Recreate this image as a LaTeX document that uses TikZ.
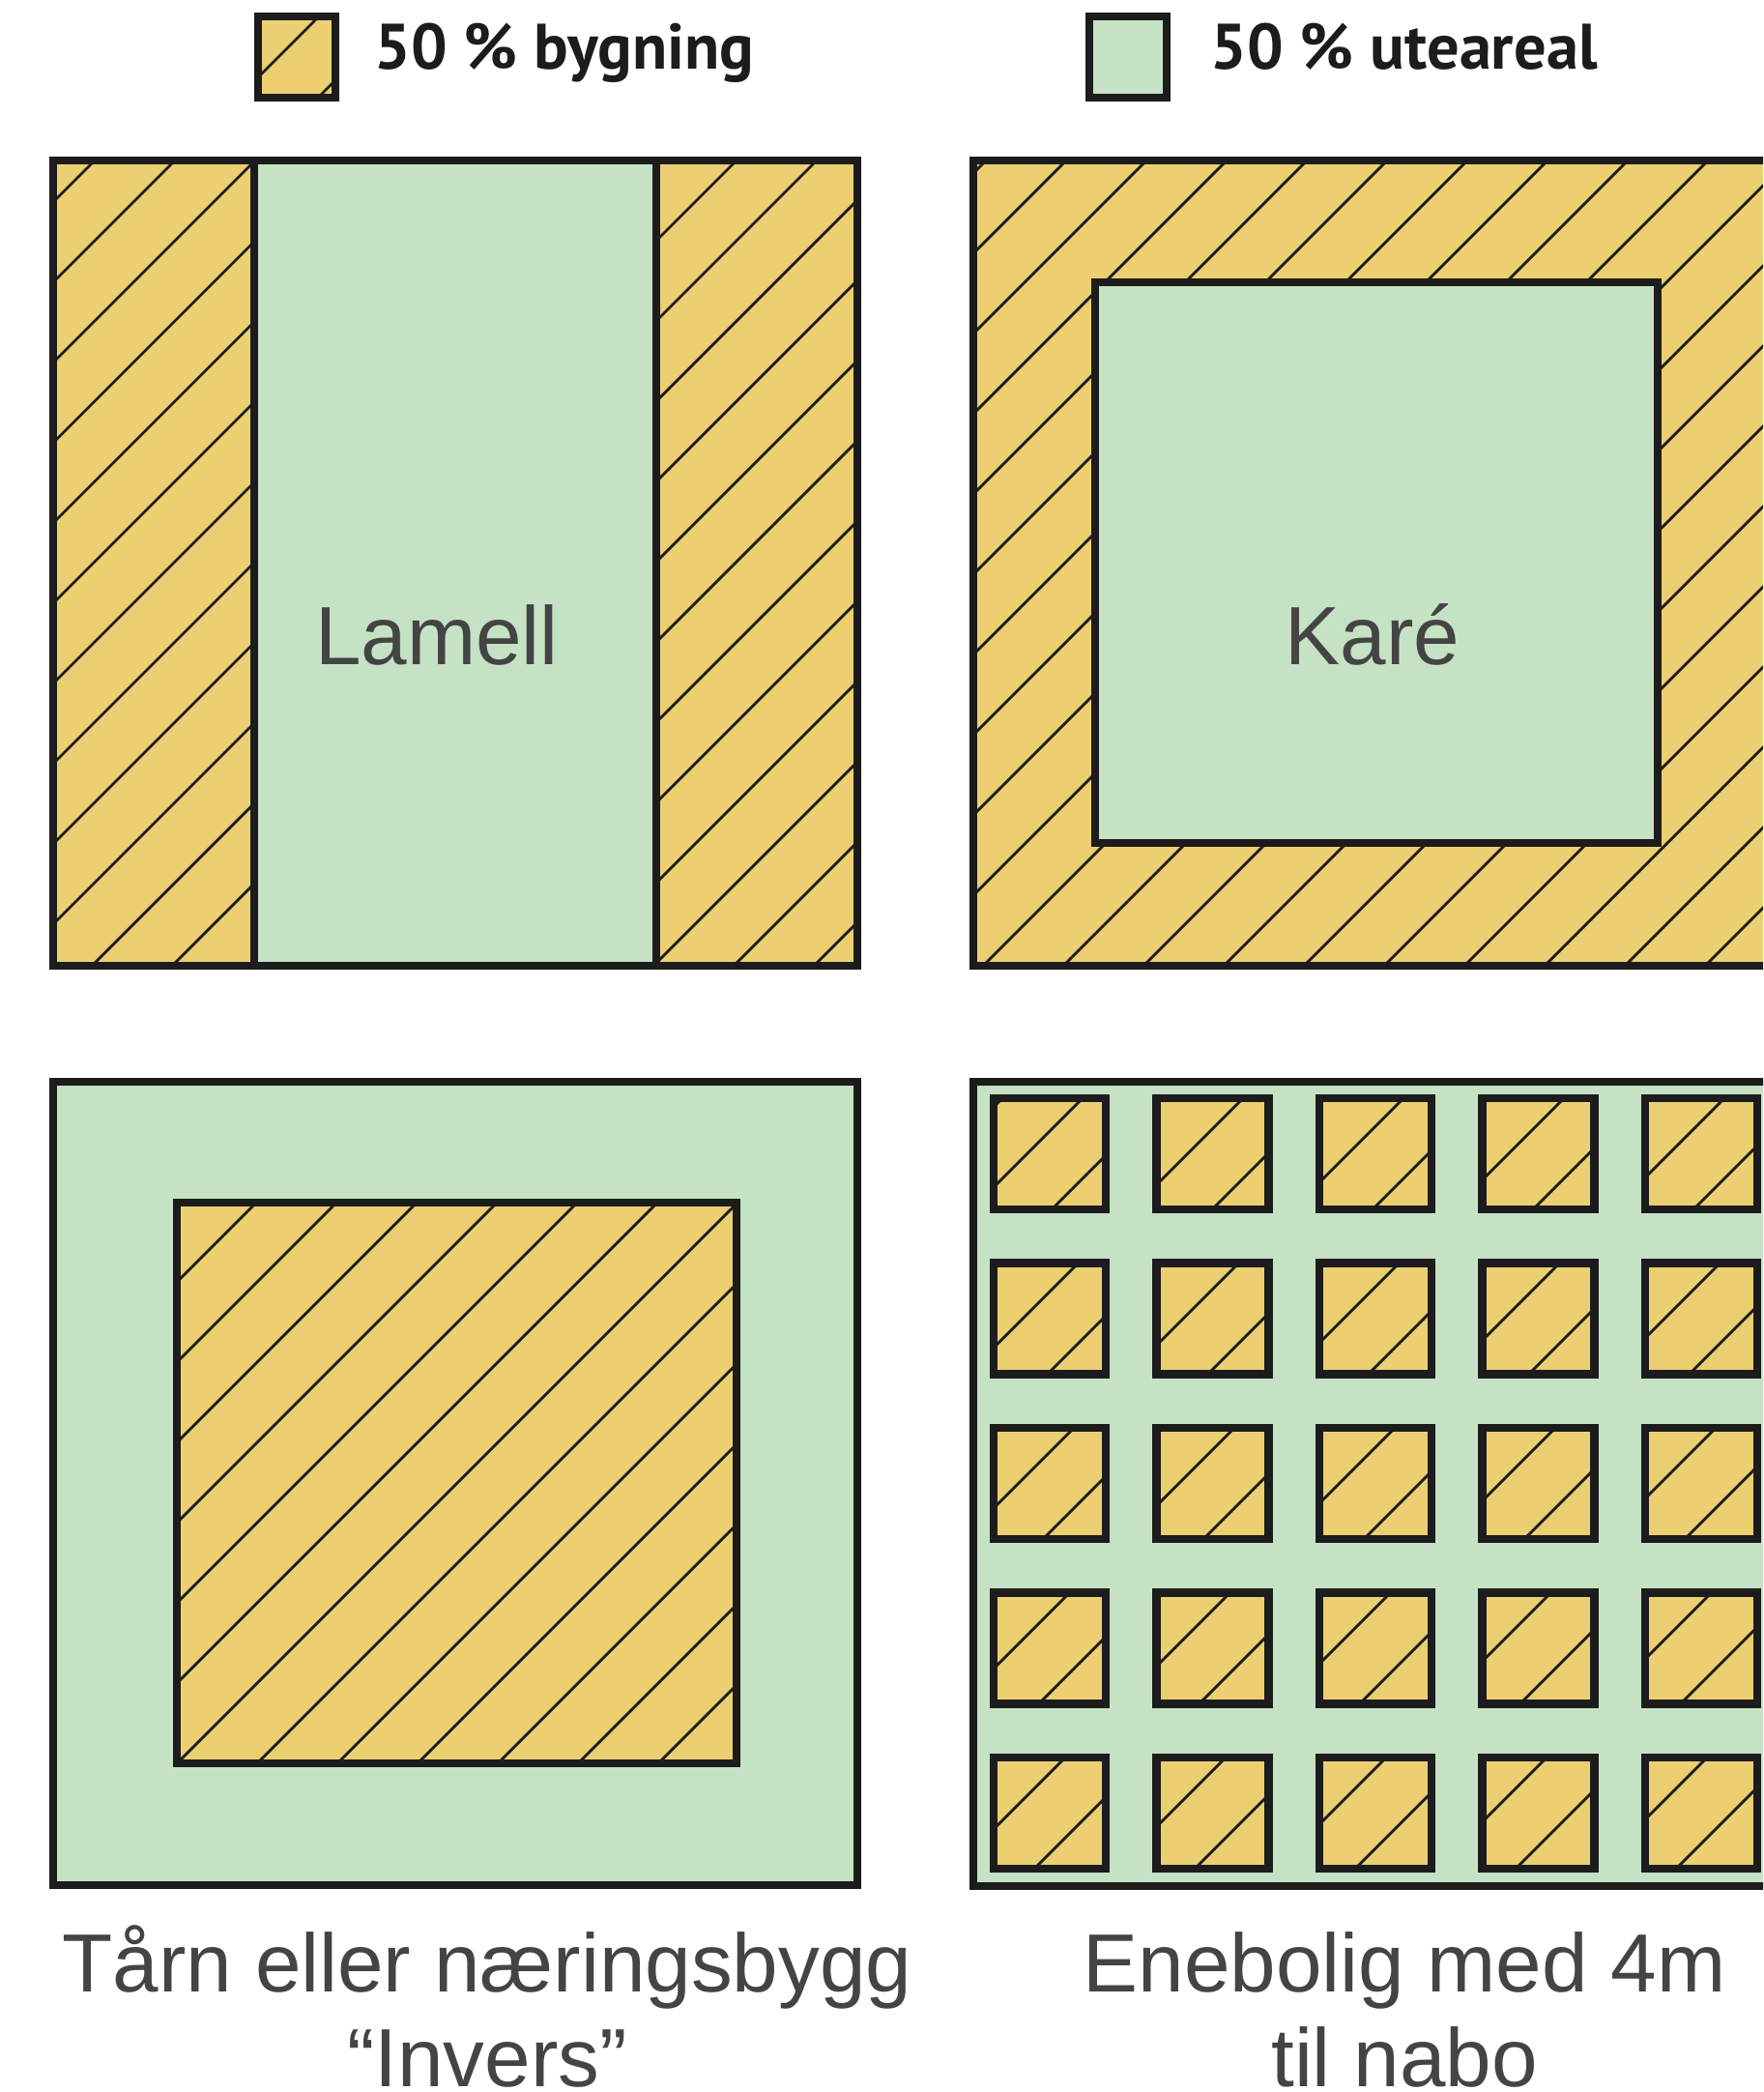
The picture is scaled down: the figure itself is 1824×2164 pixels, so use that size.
\documentclass[tikz,border=0pt]{standalone}
\usepackage{fontspec}
\setmainfont{Liberation Sans}
\newfontfamily\legfont{PT Sans}
\definecolor{bldg}{HTML}{ECCF70}
\definecolor{ute}{HTML}{C6E2C4}
\definecolor{edgecol}{HTML}{1C1C1C}
\definecolor{captxt}{HTML}{444444}
\tikzset{
  edgeline/.style={draw=edgecol, line width=2.3pt, line join=miter},
  hatchline/.style={draw=edgecol, line width=0.8pt},
  legtext/.style={inner sep=0pt, text=edgecol, font=\legfont\bfseries\fontsize{18.9}{23}\selectfont},
  captext/.style={inner sep=0pt, text=captxt, font=\fontsize{24.3}{29}\selectfont},
}
\newcommand{\hatchregion}[2]{%
  \begin{scope}
    \clip #1;
    \fill[bldg] (0,0) rectangle (1824,2164);
    \foreach \k in {0,...,48}{\draw[hatchline] ({#2+83*\k},0) -- (0,{#2+83*\k});}
  \end{scope}}
\begin{document}
\begin{tikzpicture}[x={(0.01cm,0)}, y={(0,-0.01cm)}]
\clip (0,0) rectangle (1824,2164);
\fill[white] (0,0) rectangle (1824,2164);

% legend
\hatchregion{(267,17) rectangle (347,101)}{15}
\draw[edgeline] (267,17) rectangle (347,101);
\node[legtext, anchor=base west] (leg1) at (387,72) {50 \% bygning};
\filldraw[fill=ute, edgeline] (1127,17) rectangle (1207,101);
\node[legtext, anchor=base west] (leg2) at (1252,72) {50 \% uteareal};

% panel 1: Lamell
\fill[ute] (55,166) rectangle (887,999);
\hatchregion{(55,166) rectangle (263,999)}{15}
\hatchregion{(679,166) rectangle (887,999)}{15}
\draw[edgeline] (55,166) rectangle (887,999);
\draw[edgeline] (263,166) -- (263,999);
\draw[edgeline] (679,166) -- (679,999);
\node[captext, anchor=base] (lamell) at (452,687) {Lamell};

% panel 2: Kare
\hatchregion{(1007,166) rectangle (1839,999)}{24}
\draw[edgeline] (1007,166) rectangle (1839,999);
\filldraw[fill=ute, edgeline] (1133,292) rectangle (1715,872);
\node[captext, anchor=base] (kare) at (1420,687) {Karé};

% panel 3: Invers
\fill[ute] (55,1119) rectangle (887,1950);
\hatchregion{(183,1244) rectangle (762,1824)}{15}
\draw[edgeline] (183,1244) rectangle (762,1824);
\draw[edgeline] (55,1119) rectangle (887,1950);

% panel 4: Enebolig
\fill[ute] (1007,1119) rectangle (1839,1951);
\foreach \i in {0,...,4}{
  \foreach \j in {0,...,4}{
    \hatchregion{({1028+168.5*\i},{1136+170.5*\j}) rectangle +(116,115)}{15}
    \draw[edgeline] ({1028+168.5*\i},{1136+170.5*\j}) rectangle +(116,115);
  }
}
\draw[edgeline] (1007,1119) rectangle (1839,1951);

% captions
\node[captext, anchor=base] (c3a) at (504,2060) {Tårn eller næringsbygg};
\node[captext, anchor=base] (c3b) at (504,2158) {“Invers”};
\node[captext, anchor=base] (c4a) at (1453,2060) {Enebolig med 4m};
\node[captext, anchor=base] (c4b) at (1453,2158) {til nabo};
\end{tikzpicture}
\end{document}
